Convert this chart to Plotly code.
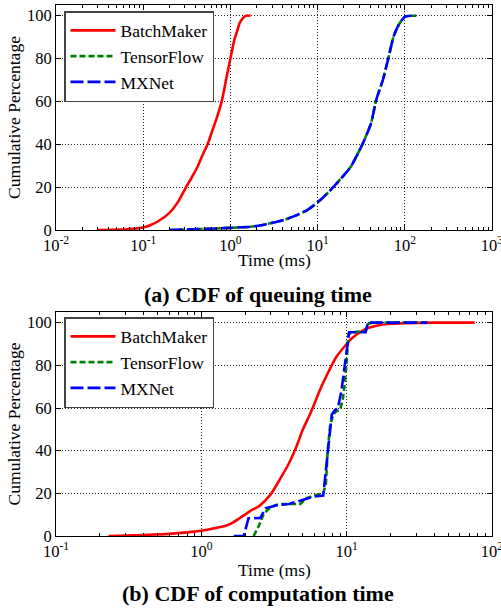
import plotly.graph_objects as go

W, H = 501, 609

# ---------------- data: (a) CDF of queuing time ----------------
qa_bm_x = [0.03, 0.05, 0.07, 0.1, 0.12, 0.15, 0.2, 0.25, 0.31, 0.36, 0.42, 0.48, 0.548, 0.61, 0.684, 0.74, 0.8,
           0.906, 1.0, 1.11, 1.2, 1.27, 1.4, 1.51, 1.7]
qa_bm_y = [0, 0.2, 0.5, 1.2, 2.2, 4.2, 8, 13, 20, 24.5, 29.5, 35, 40, 45.5, 51.3, 55.6, 60.5,
           71.5, 80, 88.7, 93, 96.4, 99, 100, 100]

qa_tf_x = [0.2, 0.5, 1.0, 1.7, 2.5, 4.1, 5.5, 7.6, 10, 12.5, 15.3, 19, 24, 28, 33, 41, 47, 56, 64.6, 74, 80, 87,
           100, 110, 135]
qa_tf_y = [0, 0.5, 1.0, 1.5, 2.6, 4.7, 6.6, 9.3, 12.9, 16.5, 20.2, 24.5, 29.5, 34.5, 40.4, 49.8, 60.7, 70, 80, 90,
           93.5, 96.4, 99.5, 99.9, 100]

qa_mx_x = [0.2, 0.5, 1.0, 1.7, 2.5, 4.1, 5.5, 7.6, 10, 12.5, 15.3, 19, 24, 28, 33, 41, 47, 56, 64.6, 74, 80, 87,
           100, 110, 135]
qa_mx_y = [0, 0.5, 1.0, 1.5, 2.6, 4.7, 6.6, 9.3, 12.9, 16.5, 20.2, 24.5, 29.5, 34.5, 40.4, 49.8, 60.7, 70, 80, 90,
           93.5, 96.4, 99.5, 99.9, 100]

# ---------------- data: (b) CDF of computation time ----------------
cb_bm_x = [0.23, 0.4, 0.6, 0.8, 1.0, 1.2, 1.41, 1.6, 1.83, 2.0, 2.2, 2.5, 3.0, 3.5, 4.0, 4.5, 5.0, 5.5, 6.0,
           6.6, 7.5, 8.5, 10, 11, 12.4, 14, 16, 20, 25, 40, 76]
cb_bm_y = [0, 0.5, 1.0, 1.7, 2.5, 3.5, 4.4, 5.8, 8.3, 10, 12, 14, 19.5, 27, 34, 41.7, 50, 56, 62,
           69, 77, 84, 90, 93, 95.5, 97.5, 98.6, 99.5, 99.8, 100, 100]

cb_tf_x = [2.29, 2.5, 2.69, 3.0, 3.25, 3.7, 4.8, 5.3, 6.0, 6.9, 7.2, 7.4, 7.7, 8.1, 8.5, 9.0, 9.4, 9.7, 10.0,
           10.3, 11, 13.5, 14, 15, 36]
cb_tf_y = [0, 5, 10.6, 13.5, 14.5, 15, 15, 17.8, 19, 20, 24.6, 40, 52, 57, 58.5, 59, 64, 71, 82,
           94.7, 95.5, 96, 99.4, 100, 100]

cb_mx_x = [1.67, 1.96, 2.11, 2.17, 2.55, 2.76, 3.35, 4.0, 5.0, 6.0, 6.9, 7.3, 7.9, 8.3, 8.7, 9.2, 9.7, 10.0,
           10.3, 10.4, 13.5, 14, 15, 36]
cb_mx_y = [0, 0, 8.3, 8.3, 8.5, 13, 14.5, 15, 17, 18.5, 19, 35, 57, 59, 60, 68, 80.7, 88,
           94.7, 95.5, 95.5, 100, 100, 100]

# ---------------- ticks ----------------
xa_tickvals = [0.01, 0.1, 1, 10, 100, 1000]
xa_ticktext = ["10<sup>-2</sup>", "10<sup>-1</sup>", "10<sup>0</sup>", "10<sup>1</sup>", "10<sup>2</sup>", "10<sup>3</sup>"]
xb_tickvals = [0.1, 1, 10, 100]
xb_ticktext = ["10<sup>-1</sup>", "10<sup>0</sup>", "10<sup>1</sup>", "10<sup>2</sup>"]
y_tickvals = [0, 20, 40, 60, 80, 100]


def minor_vals(lo, hi):
    out = []
    for e in range(lo, hi):
        for m in range(2, 10):
            out.append(m * 10 ** e)
    return out


FONT = "Liberation Serif"
RED, GREEN, BLUE = "#ff0000", "#008000", "#0000ff"

fig = go.Figure()

def add(x, y, name, color, dash, xa, ya, leg, grp, shape="linear"):
    fig.add_trace(go.Scatter(
        x=x, y=y, mode="lines", name=name,
        line=dict(color=color, width=2.6, dash=dash, shape=shape, smoothing=0.6),
        xaxis=xa, yaxis=ya, legend=leg, legendgroup=grp))

add(qa_bm_x, qa_bm_y, "BatchMaker", RED, "solid", "x", "y", "legend", "a1", "spline")
add(qa_tf_x, qa_tf_y, "TensorFlow", GREEN, "6px,3px", "x", "y", "legend", "a2", "spline")
add(qa_mx_x, qa_mx_y, "MXNet", BLUE, "13px,4px", "x", "y", "legend", "a3", "spline")

add(cb_bm_x, cb_bm_y, "BatchMaker", RED, "solid", "x2", "y2", "legend2", "b1", "spline")
add(cb_tf_x, cb_tf_y, "TensorFlow", GREEN, "6px,3px", "x2", "y2", "legend2", "b2")
add(cb_mx_x, cb_mx_y, "MXNet", BLUE, "13px,4px", "x2", "y2", "legend2", "b3")

# plot area in pixels: x 56..492, y 5..536
ML, MR, MT, MB = 56, W - 492, 5, H - 536
PW, PH = W - ML - MR, H - MT - MB

def fx(px):
    return (px - ML) / PW

def fy(py):
    return (H - MB - py) / PH

common_axis = dict(
    showline=True, linecolor="black", linewidth=1, mirror="allticks",
    ticks="inside", ticklen=5, tickwidth=1, tickcolor="black",
    showgrid=True, gridcolor="#222222", griddash="1px,2px", gridwidth=1,
    zeroline=False, automargin=False, ticklabeloverflow="allow",
    tickfont=dict(family=FONT, size=16.5, color="black"),
)

def xaxis(rng, tv, tt, anchor, lo, hi):
    d = dict(common_axis)
    d.update(type="log", range=rng, anchor=anchor,
             tickmode="array", tickvals=tv, ticktext=tt,
             minor=dict(ticks="inside", ticklen=3, tickcolor="black", tickwidth=1,
                        tickmode="array", tickvals=minor_vals(lo, hi), showgrid=False))
    return d

def yaxis(dom, anchor):
    d = dict(common_axis)
    d.update(range=[0, 105], domain=dom, anchor=anchor,
             tickmode="array", tickvals=y_tickvals,
             title=dict(text="Cumulative Percentage", font=dict(family=FONT, size=17.5, color="black"), standoff=1))
    return d

legend_common = dict(
    xanchor="left", yanchor="top", bgcolor="white", bordercolor="#444444", borderwidth=1.5,
    font=dict(family=FONT, size=17.5, color="black"), traceorder="grouped", tracegroupgap=0,
    itemwidth=45,
)

def text_ann(text, px, py, size, bold=False):
    return dict(text=("<b>%s</b>" % text) if bold else text, x=fx(px), y=fy(py),
                xref="paper", yref="paper", xanchor="center", yanchor="middle", showarrow=False,
                font=dict(family=FONT, size=size, color="black"))

fig.update_layout(
    width=W, height=H, margin=dict(l=ML, r=MR, t=MT, b=MB, autoexpand=False),
    paper_bgcolor="white", plot_bgcolor="white",
    xaxis=xaxis([-2, 3], xa_tickvals, xa_ticktext, "y", -2, 3),
    yaxis=yaxis([fy(230), fy(5)], "x"),
    xaxis2=xaxis([-1, 2], xb_tickvals, xb_ticktext, "y2", -1, 2),
    yaxis2=yaxis([fy(536), fy(312)], "x2"),
    legend=dict(legend_common, x=fx(64), y=fy(11)),
    legend2=dict(legend_common, x=fx(64), y=fy(317)),
    annotations=[
        text_ann("Time (ms)", 274, 260, 17.5),
        text_ann("Time (ms)", 274, 570, 17.5),
        text_ann("(a) CDF of queuing time", 258, 294, 22, bold=True),
        text_ann("(b) CDF of computation time", 258, 593, 22, bold=True),
    ],
)

fig.write_html("out.html", config={"displayModeBar": False},
               post_script="document.body.style.margin='0px';")
